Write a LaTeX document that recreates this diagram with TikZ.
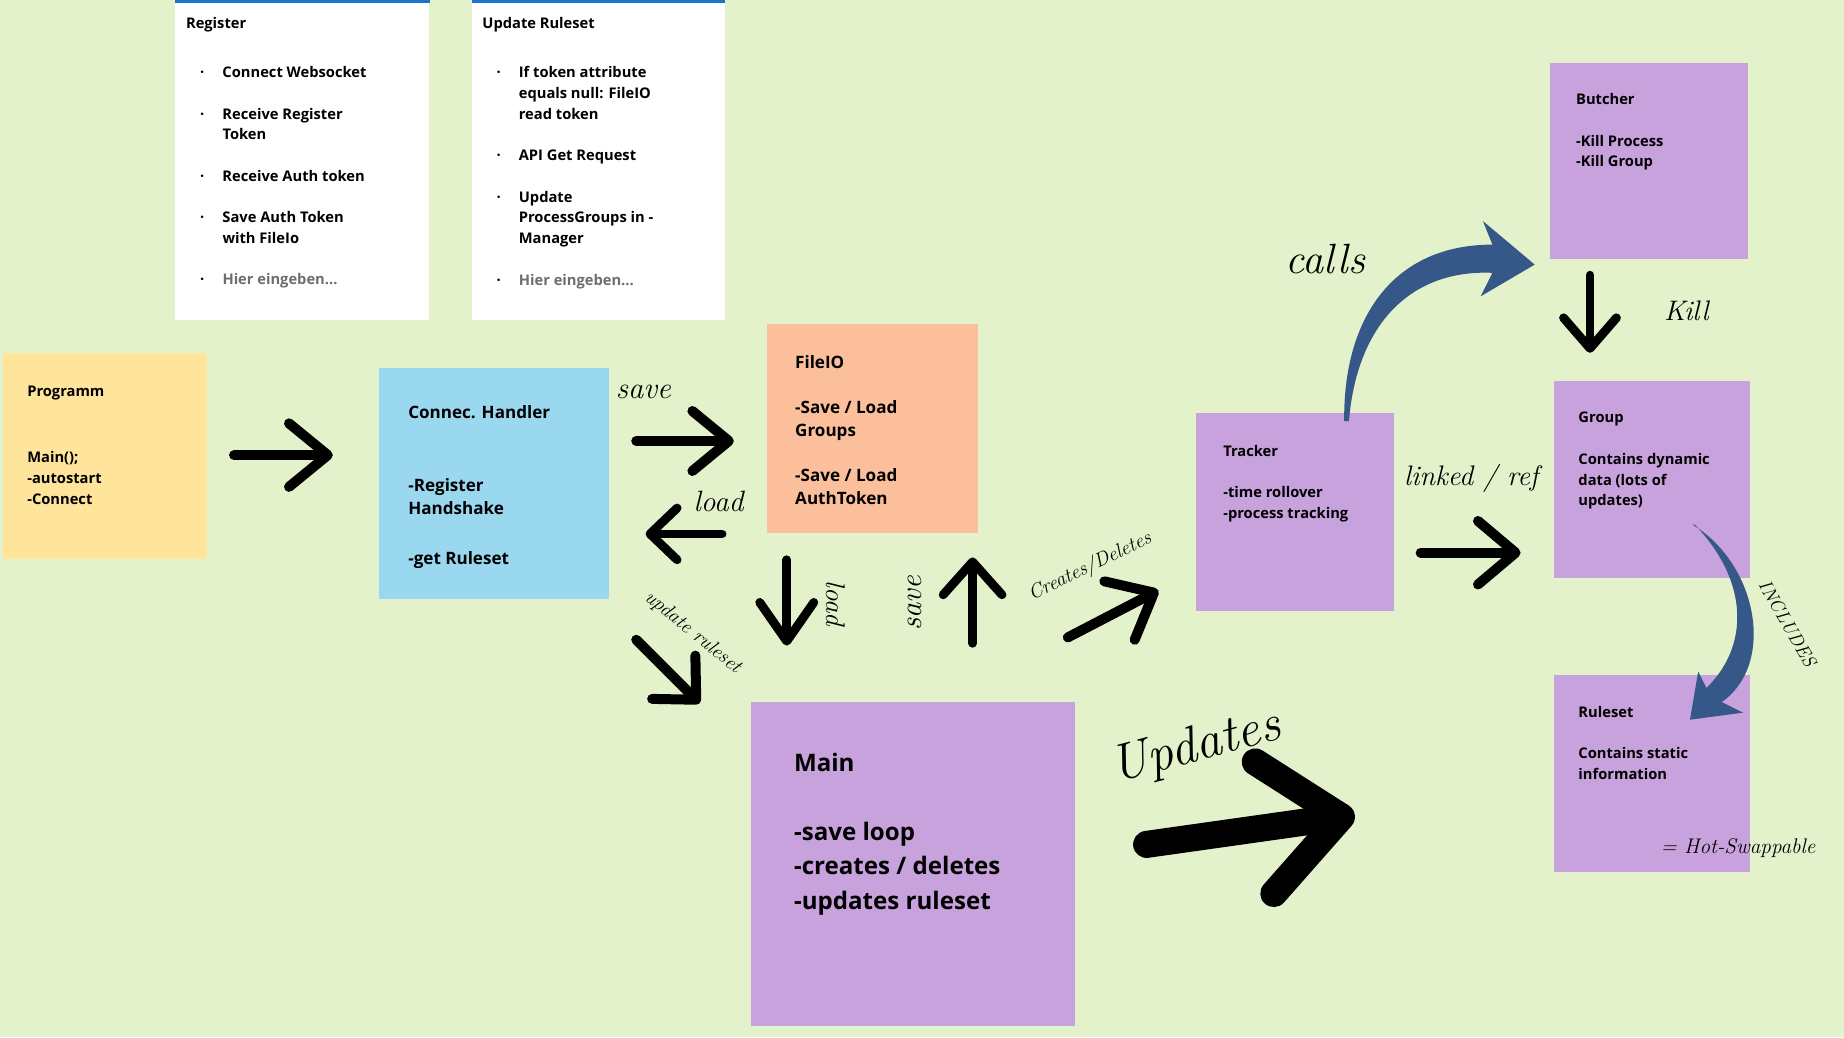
\documentclass[tikz,border=0pt]{standalone}
\usepackage{fontspec}
\newfontfamily\boxfont{Open Sans}
\usepackage{tikz}
\usetikzlibrary{arrows.meta, positioning, calc}

\definecolor{bgcol}{RGB}{228,242,203}
\definecolor{progcol}{RGB}{255,228,156}
\definecolor{conncol}{RGB}{154,216,240}
\definecolor{filecol}{RGB}{251,191,156}
\definecolor{lavcol}{RGB}{200,162,221}
\definecolor{inkblue}{RGB}{54,88,136}
\definecolor{barblue}{RGB}{28,115,207}
\definecolor{hintgray}{RGB}{110,110,110}

\newcommand{\handfont}{\rmfamily\itshape}
\newcommand{\bul}{\makebox[19pt][l]{\textperiodcentered}}
\newcommand{\ind}{\hspace*{19pt}}

\tikzset{
sticky/.style={rectangle, inner sep=0pt, draw=none, anchor=north west},
small/.style={inner sep=0pt, align=left, text=black,
    font={\boxfont\bfseries\fontsize{12.5}{17.7}\selectfont}},
medium/.style={small, font={\boxfont\bfseries\fontsize{14.5}{19.5}\selectfont}},
large/.style={small, font={\boxfont\bfseries\fontsize{20.5}{29}\selectfont}},
scribble/.style={inner sep=0pt, text=black, font={\handfont\fontsize{#1}{#1}\selectfont}},
inkarrow/.style n args={3}{black, line width=#1, line cap=round,
    -{Straight Barb[round, length=#2, width=#3]}},
}

\begin{document}
\begin{tikzpicture}[x=1pt, y=-1pt]
\fill[bgcol] (0,0) rectangle (1568,882);
\useasboundingbox (0,0) rectangle (1568,882);

% task cards
\node[sticky, fill=white, minimum width=216pt, minimum height=272pt] (reg) at (149,0) {};
\node[sticky, fill=white, minimum width=215pt, minimum height=272pt] (upd) at (401,0) {};
\fill[barblue] (reg.north west) rectangle ($(reg.north east)+(0,2.5)$);
\fill[barblue] (upd.north west) rectangle ($(upd.north east)+(0,2.5)$);

\node[small, below right=14.3pt and 9pt of reg.north west] (reg-title) {Register};
\node[small, below right=56.3pt and 21pt of reg.north west] (reg-list) {%
  \bul Connect Websocket\\[17.5pt]
  \bul Receive Register\\ \ind Token\\[17.5pt]
  \bul Receive Auth token\\[17.5pt]
  \bul Save Auth Token\\ \ind with FileIo\\[17.5pt]
  \bul\textcolor{hintgray}{Hier eingeben...}};

\node[small, below right=14.3pt and 9pt of upd.north west] (upd-title) {Update Ruleset};
\node[small, below right=56.3pt and 21pt of upd.north west] (upd-list) {%
  \bul If token attribute\\ \ind equals null: FileIO\\ \ind read token\\[17.5pt]
  \bul API Get Request\\[17.5pt]
  \bul Update\\ \ind ProcessGroups in -\\ \ind Manager\\[17.5pt]
  \bul\textcolor{hintgray}{Hier eingeben...}};

% sticky notes
\node[sticky, fill=progcol, minimum width=174pt, minimum height=175pt] (prog) at (2,300) {};
\node[sticky, fill=conncol, minimum width=196pt, minimum height=196pt] (conn) at (322,313) {};
\node[sticky, fill=filecol, minimum width=179pt, minimum height=178pt] (fileio) at (652,275) {};
\node[sticky, fill=lavcol, minimum width=276pt, minimum height=275pt] (main) at (638,597) {};
\node[sticky, fill=lavcol, minimum width=168pt, minimum height=168pt] (tracker) at (1017,351) {};
\node[sticky, fill=lavcol, minimum width=168pt, minimum height=167pt] (butcher) at (1318,53) {};
\node[sticky, fill=lavcol, minimum width=167pt, minimum height=167pt] (group) at (1321,324) {};
\node[sticky, fill=lavcol, minimum width=167pt, minimum height=167pt] (ruleset) at (1321,574) {};

\node[small, below right=28.3pt and 21pt of prog.north west] (prog-txt)
  {Programm\\[38.5pt]Main();\\-autostart\\-Connect};
\node[medium, below right=31.5pt and 25pt of conn.north west] (conn-txt)
  {Connec. Handler\\[42.5pt]-Register\\Handshake\\[23pt]-get Ruleset};
\node[medium, below right=27.5pt and 24pt of fileio.north west] (fileio-txt)
  {FileIO\\[18.5pt]-Save / Load\\Groups\\[18.5pt]-Save / Load\\AuthToken};
\node[large, below right=43.2pt and 37pt of main.north west] (main-txt)
  {Main\\[30pt]-save loop\\-creates / deletes\\-updates ruleset};
\node[small, below right=27.3pt and 23pt of tracker.north west] (tracker-txt)
  {Tracker\\[17.5pt]-time rollover\\-process tracking};
\node[small, below right=26.3pt and 22pt of butcher.north west] (butcher-txt)
  {Butcher\\[17.5pt]-Kill Process\\-Kill Group};
\node[small, below right=26.3pt and 21pt of group.north west] (group-txt)
  {Group\\[17.5pt]Contains dynamic\\data (lots of\\updates)};
\node[small, below right=26.3pt and 21pt of ruleset.north west] (ruleset-txt)
  {Ruleset\\[17.5pt]Contains static\\information};

% hand drawn arrows
\coordinate (p1) at (199,387);   \coordinate (p2) at (283,387);
\coordinate (s1) at (541,375);   \coordinate (s2) at (624,375);
\coordinate (l1) at (614,454);   \coordinate (l2) at (549,454);
\coordinate (fl1) at (669,476);  \coordinate (fl2) at (669,549);
\coordinate (fs1) at (827,547);  \coordinate (fs2) at (827,474);
\coordinate (cd1) at (908,542);  \coordinate (cd2) at (985,502);
\coordinate (ur1) at (541,544);  \coordinate (ur2) at (595,598);
\coordinate (up1) at (975,718);  \coordinate (up2) at (1152,693);
\coordinate (k1) at (1352,234);  \coordinate (k2) at (1352,300);
\coordinate (lr1) at (1208,470); \coordinate (lr2) at (1293,470);

\draw[inkarrow={8.5pt}{33pt}{54pt}] (p1) -- (p2);
\draw[inkarrow={8.5pt}{31pt}{51pt}] (s1) -- (s2);
\draw[inkarrow={7.5pt}{23pt}{44pt}] (l1) -- (l2);
\draw[inkarrow={7.5pt}{33pt}{46pt}] (fl1) -- (fl2);
\draw[inkarrow={7.5pt}{28pt}{50pt}] (fs1) -- (fs2);
\draw[inkarrow={8.5pt}{33pt}{56pt}] (cd1) -- (cd2);
\draw[inkarrow={8.5pt}{27pt}{52pt}] (ur1) -- (ur2);
\draw[inkarrow={23pt}{66pt}{113pt}] (up1) -- (up2);
\draw[inkarrow={7.5pt}{26pt}{45pt}] (k1) -- (k2);
\draw[inkarrow={8.5pt}{32pt}{54pt}] (lr1) -- (lr2);

% curved blue arrows
\fill[inkblue] (1143,358) .. controls (1142,270) and (1185,208) .. (1269,208)
  -- (1261,188) -- (1305,225) -- (1259,252) -- (1269,232)
  .. controls (1200,229) and (1154,275) .. (1147,358) -- cycle;
\fill[inkblue] (1439,446) .. controls (1495,480) and (1510,565) .. (1464,597)
  -- (1482,606) -- (1437,612) -- (1444,571) -- (1451,585)
  .. controls (1487,550) and (1488,495) .. (1441,446) -- cycle;

% labels
\node[scribble=26] (lbl-save) at (547,333) {save};
\node[scribble=25] (lbl-load) at (611,426) {load};
\node[scribble=23, rotate=-90] (lbl-fload) at (711,513) {load};
\node[scribble=26, rotate=90] (lbl-fsave) at (778,513) {save};
\node[scribble=17, rotate=-39] (lbl-upd) at (589,538) {update ruleset};
\node[scribble=17, rotate=26] (lbl-cd) at (927,482) {Creates/Deletes};
\node[scribble=44, rotate=15] (lbl-updates) at (1017,636) {Updates};
\node[scribble=36] (lbl-calls) at (1127,220) {calls};
\node[scribble=24] (lbl-kill) at (1434,264) {Kill};
\node[scribble=24] (lbl-link) at (1251,407) {linked / ref};
\node[scribble=16, rotate=-60] (lbl-incl) at (1520,530) {INCLUDES};
\node[scribble=18] (lbl-hot) at (1478,721) {= Hot-Swappable};
\end{tikzpicture}
\end{document}
